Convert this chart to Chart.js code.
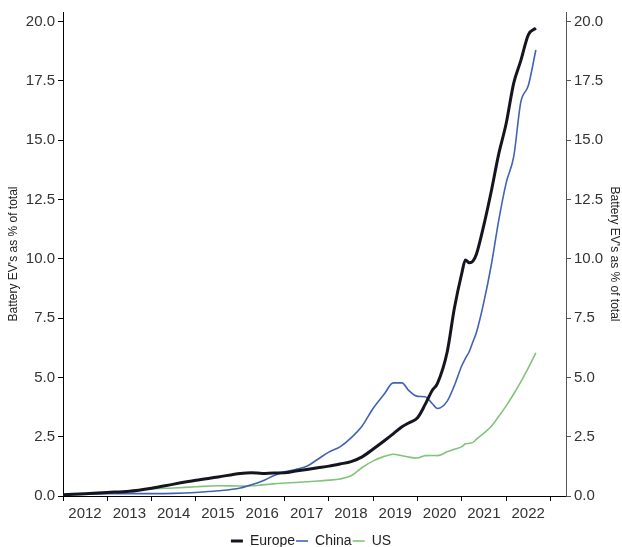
<!DOCTYPE html>
<html>
<head>
<meta charset="utf-8">
<script src="https://cdn.jsdelivr.net/npm/chart.js@4/dist/chart.umd.min.js"></script>
<style>
  html, body { margin: 0; padding: 0; background: #fff; }
  #wrap { width: 622px; height: 547px; }
</style>
</head>
<body>
<div id="wrap"><canvas id="myChart" width="622" height="547"></canvas></div>
<script>
// dates as decimal years
const dates = [
    2012.0, 2012.5, 2013.0, 2013.5, 2014.0, 2014.5, 2015.0, 2015.5, 2016.0, 2016.25,
    2016.5, 2016.75, 2017.0, 2017.25, 2017.5, 2017.75, 2018.0, 2018.25, 2018.5, 2018.75,
    2019.0, 2019.25, 2019.45, 2019.65, 2019.8, 2020.0, 2020.17, 2020.33, 2020.45, 2020.67, 2020.83,
    2021.0, 2021.08, 2021.17, 2021.25, 2021.33, 2021.5, 2021.67, 2021.83, 2022.0, 2022.17,
    2022.33, 2022.5, 2022.67
];

const europe = [
    0.05, 0.1, 0.15, 0.2, 0.33, 0.5, 0.66, 0.8, 0.95, 0.98,
    0.95, 0.97, 0.98, 1.05, 1.12, 1.19, 1.26, 1.35, 1.45, 1.65,
    1.98, 2.33, 2.62, 2.92, 3.08, 3.3, 3.85, 4.45, 4.75, 6.08, 7.9,
    9.4, 9.95, 9.83, 9.9, 10.2, 11.45, 12.9, 14.4, 15.7, 17.4,
    18.35, 19.44, 19.72
];

const china = [
    0.05, 0.08, 0.1, 0.1, 0.1, 0.11, 0.15, 0.22, 0.34, 0.47,
    0.63, 0.85, 1.02, 1.12, 1.25, 1.55, 1.85, 2.07, 2.45, 2.95,
    3.7, 4.3, 4.77, 4.77, 4.45, 4.2, 4.18, 3.9, 3.69, 4.0, 4.65,
    5.5, 5.8, 6.1, 6.5, 6.9, 8.2, 9.8, 11.6, 13.2, 14.3,
    16.6, 17.3, 18.8
];

const us = [
    0.05, 0.08, 0.12, 0.22, 0.3, 0.34, 0.39, 0.43, 0.42, 0.43,
    0.47, 0.51, 0.55, 0.57, 0.6, 0.63, 0.67, 0.72, 0.85, 1.2,
    1.48, 1.67, 1.76, 1.7, 1.64, 1.6, 1.7, 1.71, 1.7, 1.86, 1.97,
    2.08, 2.2, 2.22, 2.26, 2.4, 2.65, 2.95, 3.35, 3.8, 4.3,
    4.81, 5.4, 6.03
];

const years = [2012, 2013, 2014, 2015, 2016, 2017, 2018, 2019, 2020, 2021, 2022, 2023];
const yTicks = [0, 2.5, 5, 7.5, 10, 12.5, 15, 17.5, 20];

const toPoints = vals => vals.map((v, i) => ({ x: dates[i], y: v }));

const tickFont = { family: "'Liberation Sans', Arial, sans-serif", size: 15 };
const titleFont = { family: "'Liberation Sans', Arial, sans-serif", size: 12 };

const yAxis = (pos, borderColor) => ({
    type: 'linear',
    position: pos,
    min: 0,
    max: 20.4,
    afterBuildTicks: scale => { scale.ticks = yTicks.map(v => ({ value: v })); },
    afterFit: scale => { scale.width = pos === 'left' ? 63 : 56; },
    border: { display: true, color: borderColor, width: 1 },
    grid: { drawOnChartArea: false, drawTicks: true, tickLength: 5, color: borderColor },
    ticks: {
        color: '#333',
        font: tickFont,
        padding: 3,
        callback: v => v.toFixed(1)
    },
    title: {
        display: true,
        text: "Battery EV's as % of total",
        color: '#222',
        font: titleFont,
        padding: { top: pos === 'left' ? 6 : 0, bottom: 0 }
    }
});

const ctx = document.getElementById('myChart').getContext('2d');
const myChart = new Chart(ctx, {
    type: 'line',
    data: {
        datasets: [
            {
                label: 'Europe',
                data: toPoints(europe),
                borderColor: '#15151f',
                backgroundColor: '#15151f',
                borderWidth: 3
            },
            {
                label: 'China',
                data: toPoints(china),
                borderColor: '#4163b3',
                backgroundColor: '#4163b3',
                borderWidth: 1.6
            },
            {
                label: 'US',
                data: toPoints(us),
                borderColor: '#82c47c',
                backgroundColor: '#82c47c',
                borderWidth: 1.6
            }
        ]
    },
    options: {
        responsive: false,
        animation: false,
        layout: { padding: { top: 10, left: 0, right: 0, bottom: -11 } },
        elements: {
            point: { radius: 0 },
            line: { cubicInterpolationMode: 'monotone' }
        },
        scales: {
            x: {
                type: 'linear',
                min: 2012,
                max: 2023.35,
                afterBuildTicks: scale => { scale.ticks = years.map(v => ({ value: v })); },
                afterFit: scale => { scale.height = 37; },
                border: { display: true, color: '#000', width: 1 },
                grid: { drawOnChartArea: false, drawTicks: true, tickLength: 5, color: '#000' },
                ticks: {
                    color: '#333',
                    font: tickFont,
                    padding: 4,
                    maxRotation: 0,
                    autoSkip: false,
                    labelOffset: 22,
                    callback: v => (v === 2023 ? '' : String(v))
                }
            },
            y: yAxis('left', '#000'),
            y2: yAxis('right', '#555')
        },
        plugins: {
            tooltip: { enabled: false },
            legend: {
                position: 'bottom',
                labels: {
                    usePointStyle: true,
                    pointStyle: 'line',
                    pointStyleWidth: 12,
                    boxHeight: 10,
                    padding: 1,
                    color: '#222',
                    font: { family: "'Liberation Sans', Arial, sans-serif", size: 14 }
                }
            }
        }
    }
});
</script>
</body>
</html>
